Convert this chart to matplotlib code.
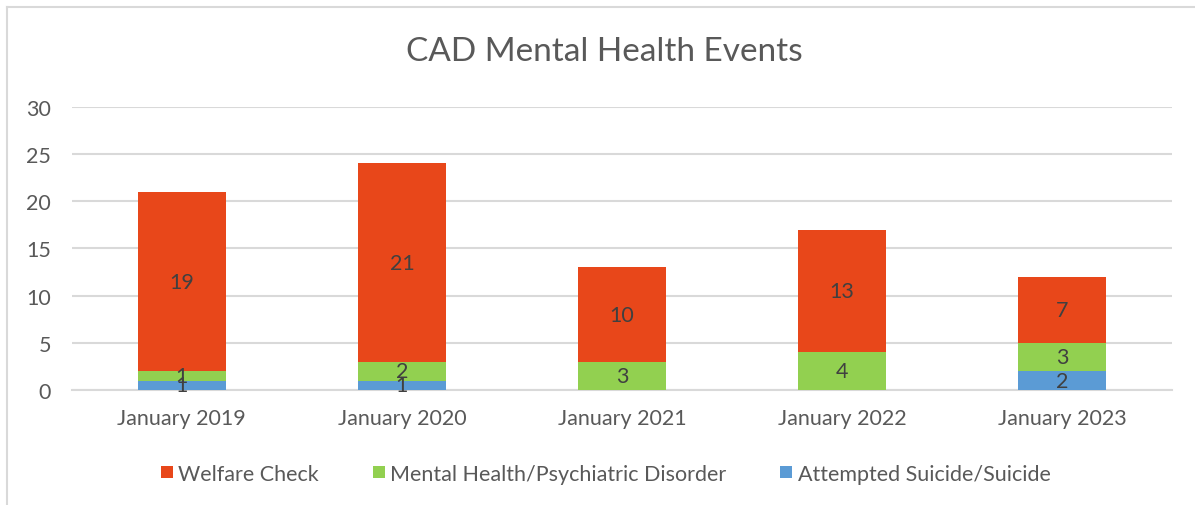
import numpy as np
import matplotlib.pyplot as plt
from matplotlib.lines import Line2D

# 数据
categories = ['January 2019', 'January 2020', 'January 2021', 'January 2022', 'January 2023']
attempted = [1, 1, 0, 0, 2]
mental = [1, 2, 3, 4, 3]
welfare = [19, 21, 10, 13, 7]

C_RED = '#E8471A'
C_GREEN = '#92D050'
C_BLUE = '#5B9BD5'
GRID = '#D9D9D9'
TXT = '#595959'
LBL = '#404040'

plt.rcParams['font.family'] = ['Lato', 'DejaVu Sans']

fig = plt.figure(figsize=(11.95, 5.06), dpi=100)
ax = fig.add_axes([0.060, 0.227, 0.921, 0.560])

x = np.arange(len(categories))
w = 0.4
att = np.array(attempted)
men = np.array(mental)
wel = np.array(welfare)

b1 = ax.bar(x, att, w, color=C_BLUE, label='Attempted Suicide/Suicide', zorder=3)
b2 = ax.bar(x, men, w, bottom=att, color=C_GREEN, label='Mental Health/Psychiatric Disorder', zorder=3)
b3 = ax.bar(x, wel, w, bottom=att + men, color=C_RED, label='Welfare Check', zorder=3)

# 数据标签 (0 不显示)
for bars, vals, base in [(b1, att, np.zeros_like(att)), (b2, men, att), (b3, wel, att + men)]:
    for xi, v, b0 in zip(x, vals, base):
        if v > 0:
            ax.text(xi, b0 + v / 2, str(v), ha='center', va='center',
                    fontsize=15.5, color=LBL, zorder=4)

ax.set_xlim(-0.5, 4.5)
ax.set_ylim(0, 30)
ax.set_yticks(range(0, 31, 5))
ax.set_xticks(x)
ax.set_xticklabels(categories)
ax.tick_params(axis='both', length=0, labelsize=15.5, labelcolor=TXT)
ax.tick_params(axis='y', pad=15)
ax.tick_params(axis='x', pad=13)
ax.yaxis.grid(True, color=GRID, linewidth=1.5, zorder=0)
for s in ['top', 'right', 'left']:
    ax.spines[s].set_visible(False)
ax.spines['bottom'].set_color(GRID)
ax.spines['bottom'].set_linewidth(1.5)

fig.text(0.506, 0.897, 'CAD Mental Health Events', ha='center', va='center',
         fontsize=24, color=TXT)

handles = [b3, b2, b1]
fig.legend(handles, [h.get_label() for h in handles], loc='center',
           bbox_to_anchor=(0.507, 0.062), ncol=3, frameon=False,
           fontsize=15.5, labelcolor=TXT, handlelength=0.55, handleheight=0.55,
           handletextpad=0.25, columnspacing=2.5)

# 外框 (左/上)
fig.add_artist(Line2D([0.0059, 0.0059], [0.0, 0.984], transform=fig.transFigure,
                      color=GRID, linewidth=1.5))
fig.add_artist(Line2D([0.0059, 1.0], [0.984, 0.984], transform=fig.transFigure,
                      color=GRID, linewidth=1.5))

fig.savefig('out.png', dpi=100)
